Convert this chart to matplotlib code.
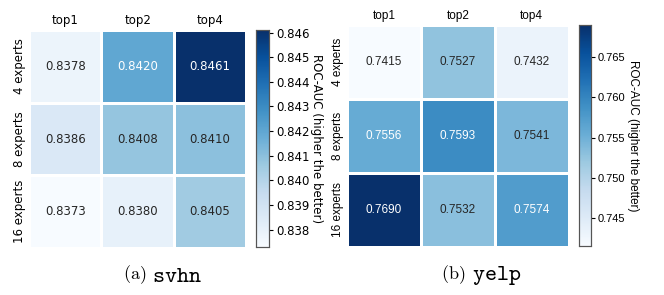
import numpy as np
import matplotlib
matplotlib.use('Agg')
import matplotlib.pyplot as plt
from matplotlib.ticker import MultipleLocator
import seaborn as sns

cols = ['top1', 'top2', 'top4']
rows = ['4 experts', '8 experts', '16 experts']

svhn_auc = np.array([
    [0.8378, 0.8420, 0.8461],
    [0.8386, 0.8408, 0.8410],
    [0.8373, 0.8380, 0.8405],
])
yelp_auc = np.array([
    [0.7415, 0.7527, 0.7432],
    [0.7556, 0.7593, 0.7541],
    [0.7690, 0.7532, 0.7574],
])

fig = plt.figure(figsize=(6.64, 2.95), dpi=100)

# data, tag, name, font, heatmap box, colorbar box, tick step, caption split x
panels = [
    (svhn_auc, '(a)', 'svhn', 'DejaVu Sans',
     [0.0437, 0.159, 0.327, 0.739], [0.3855, 0.163, 0.0196, 0.735], 0.001,
     (0.220, 0.229), 8.5, 8.5),
    (yelp_auc, '(b)', 'yelp', 'Liberation Sans',
     [0.5226, 0.163, 0.334, 0.753], [0.872, 0.166, 0.018, 0.749], 0.005,
     (0.701, 0.711), 8.5, 8),
]

for data, tag, name, fam, hm_pos, cb_pos, step, cap_x, fs, tfs in panels:
    ax = fig.add_axes(hm_pos)
    cax = fig.add_axes(cb_pos)
    sns.heatmap(data, ax=ax, cbar_ax=cax, cmap='Blues', annot=True, fmt='.4f',
                linewidths=2, linecolor='white',
                annot_kws={'fontsize': fs, 'family': fam},
                xticklabels=cols, yticklabels=rows)
    ax.xaxis.tick_top()
    ax.tick_params(length=0, pad=2)
    ax.set_xticklabels(cols, family=fam, fontsize=fs)
    ax.set_yticklabels(rows, rotation=90, va='center', family=fam, fontsize=fs)
    cax.yaxis.set_major_locator(MultipleLocator(step))
    cax.tick_params(length=3, pad=2)
    for lab in cax.get_yticklabels():
        lab.set_family(fam)
        lab.set_fontsize(tfs)
    cax.set_ylabel('ROC-AUC (higher the better)', rotation=270, labelpad=10,
                   fontsize=fs, family=fam)
    for s in cax.spines.values():
        s.set_visible(True)
        s.set_edgecolor('#555555')
        s.set_linewidth(0.8)
    # caption: serif tag + typewriter dataset name
    fig.text(cap_x[0], 0.068, '$\\mathrm{' + tag + '}$', ha='right', va='center',
             math_fontfamily='cm', fontsize=13)
    fig.text(cap_x[1], 0.066, '$\\mathtt{' + name + '}$', ha='left', va='center',
             math_fontfamily='cm', fontsize=16.5)

fig.savefig('out.png', dpi=100)
